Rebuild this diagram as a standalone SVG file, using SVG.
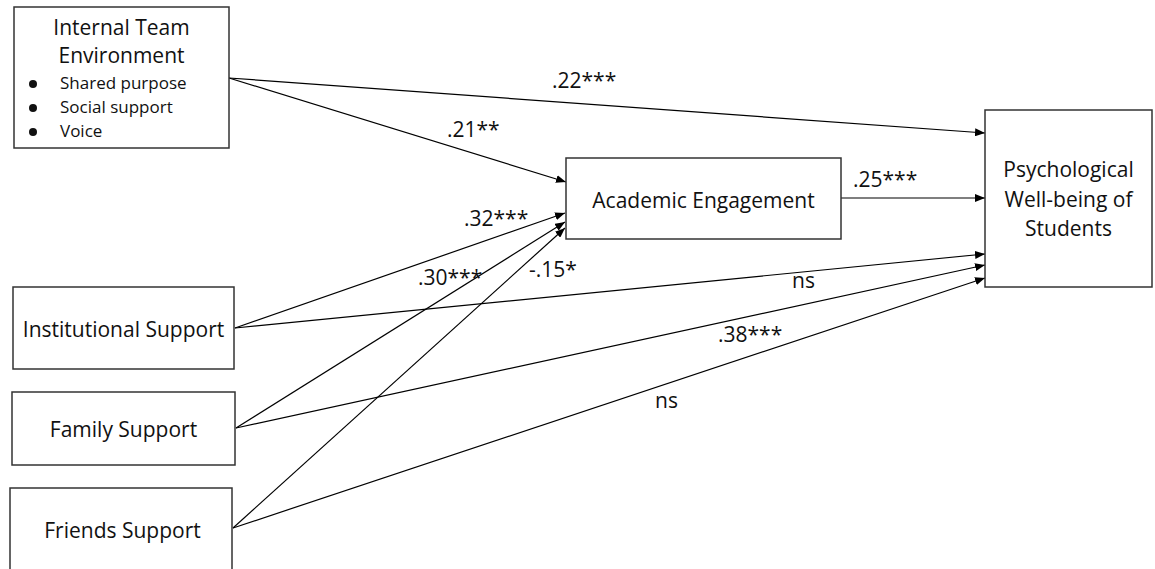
<svg xmlns="http://www.w3.org/2000/svg" width="1155" height="569" viewBox="0 0 1155 569">
<style>
.box{fill:#fff;stroke:#333;stroke-width:1.5}
.t{font-family:"Open Sans","Noto Sans",sans-serif;font-size:21px;fill:#111}
.s{font-family:"Open Sans","Noto Sans",sans-serif;font-size:17px;fill:#111}
.lbl{font-family:"Open Sans","Noto Sans",sans-serif;font-size:21px;fill:#111}
.c{text-anchor:middle}
.e{fill:none;stroke:#000;stroke-width:1.2;marker-end:url(#ah)}
</style>
<defs>
<marker id="ah" viewBox="0 0 10 8" refX="10" refY="4" markerWidth="10" markerHeight="8" markerUnits="userSpaceOnUse" orient="auto">
<path d="M0,0 L10,4 L0,8 z" fill="#000"/>
</marker>
</defs>
<rect width="1155" height="569" fill="#fff"/>
<g id="connectors">
<line class="e" x1="229" y1="78" x2="985" y2="133"/>
<line class="e" x1="229" y1="78" x2="566" y2="182"/>
<line class="e" x1="841" y1="198" x2="985" y2="198"/>
<line class="e" x1="235" y1="328" x2="565" y2="213"/>
<line class="e" x1="235" y1="328" x2="985" y2="254"/>
<line class="e" x1="236" y1="428" x2="565" y2="222"/>
<line class="e" x1="236" y1="428" x2="985" y2="265"/>
<line class="e" x1="233" y1="528" x2="565" y2="228"/>
<line class="e" x1="233" y1="528" x2="985" y2="278"/>
</g>
<g id="labels">
<text class="lbl" x="552" y="88">.22***</text>
<text class="lbl" x="447" y="137">.21**</text>
<text class="lbl" x="853" y="187">.25***</text>
<text class="lbl" x="464" y="226">.32***</text>
<text class="lbl" x="418" y="285">.30***</text>
<text class="lbl" x="529" y="277">-.15*</text>
<text class="lbl" x="792" y="288">ns</text>
<text class="lbl" x="718" y="342">.38***</text>
<text class="lbl" x="655" y="408">ns</text>
</g>
<g id="internal-team">
<rect class="box" x="14" y="7" width="215" height="141"/>
<text class="t c" x="121.5" y="35">Internal Team</text>
<text class="t c" x="121.5" y="63">Environment</text>
<circle cx="33" cy="84" r="4" fill="#111"/>
<circle cx="33" cy="108" r="4" fill="#111"/>
<circle cx="33" cy="132" r="4" fill="#111"/>
<text class="s" x="60" y="89">Shared purpose</text>
<text class="s" x="60" y="113">Social support</text>
<text class="s" x="60" y="137">Voice</text>
</g>
<g id="academic-engagement">
<rect class="box" x="566" y="158" width="275" height="81"/>
<text class="t c" x="703.5" y="208">Academic Engagement</text>
</g>
<g id="psychological-wellbeing">
<rect class="box" x="985" y="110" width="167" height="177"/>
<text class="t c" x="1068.5" y="177">Psychological</text>
<text class="t c" x="1068.5" y="207">Well-being of</text>
<text class="t c" x="1068.5" y="236">Students</text>
</g>
<g id="institutional-support">
<rect class="box" x="13" y="287" width="221" height="82"/>
<text class="t c" x="123.5" y="337">Institutional Support</text>
</g>
<g id="family-support">
<rect class="box" x="12" y="392" width="223" height="73"/>
<text class="t c" x="123.5" y="437">Family Support</text>
</g>
<g id="friends-support">
<rect class="box" x="10" y="488" width="222" height="90"/>
<text class="t c" x="122.5" y="538">Friends Support</text>
</g>
</svg>
